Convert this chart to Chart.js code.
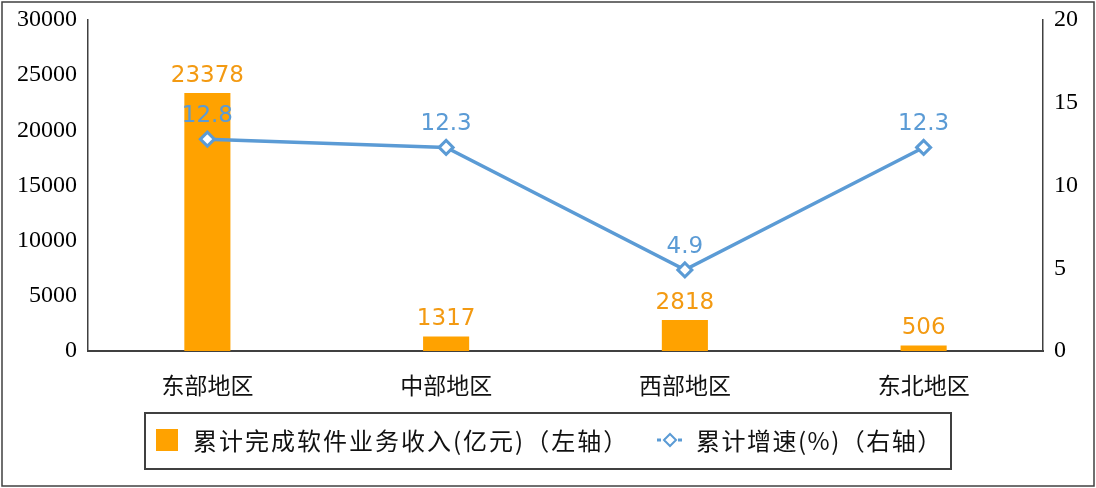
<!DOCTYPE html>
<html>
<head>
<meta charset="utf-8">
<script src="https://cdn.jsdelivr.net/npm/chart.js@4.4.1/dist/chart.umd.min.js"></script>
<style>
  html, body { margin: 0; padding: 0; background: #fff; }
  #wrap { width: 1096px; height: 488px; position: relative; }
</style>
</head>
<body>
<div id="wrap"><canvas id="chart" width="1096" height="488"></canvas></div>
<script>
const regions = ["东部地区", "中部地区", "西部地区", "东北地区"];
const revenue = [23378, 1317, 2818, 506];
const growth = [12.8, 12.3, 4.9, 12.3];
const revenueLabel = "累计完成软件业务收入(亿元)（左轴）";
const growthLabel = "累计增速(%)（右轴）";

const barColor = "#FFA200";
const barLabelColor = "#F39A12";
const lineColor = "#5B9BD5";
const axisColor = "#404040";

// value labels above bars and points
const valueLabels = {
  id: "valueLabels",
  afterDatasetsDraw(chart) {
    const ctx = chart.ctx;
    ctx.save();
    ctx.font = "23px 'DejaVu Sans'";
    ctx.textAlign = "center";
    ctx.textBaseline = "alphabetic";
    chart.data.datasets.forEach((ds, i) => {
      const meta = chart.getDatasetMeta(i);
      meta.data.forEach((el, j) => {
        if (ds.type === "bar") {
          ctx.fillStyle = barLabelColor;
          ctx.fillText(ds.data[j], el.x, el.y - 11);
        } else {
          ctx.fillStyle = lineColor;
          ctx.fillText(ds.data[j], el.x, el.y - 17);
        }
      });
    });
    ctx.restore();
  }
};

// outer frame and boxed legend
const frameLegend = {
  id: "frameLegend",
  afterDraw(chart) {
    const ctx = chart.ctx;
    const barDs = chart.data.datasets.find(d => d.type === "bar");
    const lineDs = chart.data.datasets.find(d => d.type === "line");
    ctx.save();
    ctx.strokeStyle = axisColor;
    ctx.lineWidth = 1.5;
    ctx.strokeRect(2, 2, 1092, 484);
    ctx.lineWidth = 2;
    ctx.strokeRect(145, 413, 806, 56);

    ctx.fillStyle = barDs.backgroundColor;
    ctx.fillRect(156, 429, 22, 22);

    ctx.font = "24px 'Noto Sans CJK SC'";
    ctx.letterSpacing = "2px";
    ctx.textBaseline = "middle";
    ctx.textAlign = "left";
    ctx.fillStyle = "#111";
    ctx.fillText(barDs.label, 193, 441);

    ctx.strokeStyle = lineDs.borderColor;
    ctx.lineWidth = 3;
    ctx.setLineDash([4, 3]);
    ctx.beginPath();
    ctx.moveTo(657, 440);
    ctx.lineTo(683, 440);
    ctx.stroke();
    ctx.setLineDash([]);
    ctx.fillStyle = "#fff";
    ctx.lineWidth = 2;
    ctx.beginPath();
    ctx.moveTo(670, 434);
    ctx.lineTo(676, 440);
    ctx.lineTo(670, 446);
    ctx.lineTo(664, 440);
    ctx.closePath();
    ctx.fill();
    ctx.stroke();

    ctx.fillStyle = "#111";
    ctx.letterSpacing = "1.5px";
    ctx.fillText(lineDs.label, 696, 441);
    ctx.restore();
  }
};

new Chart(document.getElementById("chart"), {
  data: {
    labels: regions,
    datasets: [
      {
        type: "line",
        label: growthLabel,
        data: growth,
        yAxisID: "y1",
        borderColor: lineColor,
        borderWidth: 3.5,
        pointStyle: "rectRot",
        pointRadius: 7,
        pointBorderWidth: 3,
        pointBackgroundColor: "#fff",
        pointBorderColor: lineColor,
        tension: 0,
        order: 1
      },
      {
        type: "bar",
        label: revenueLabel,
        data: revenue,
        yAxisID: "y",
        backgroundColor: barColor,
        borderWidth: 0,
        barPercentage: 0.193,
        categoryPercentage: 1,
        order: 2
      }
    ]
  },
  options: {
    responsive: false,
    animation: false,
    layout: { padding: { top: 20, bottom: 82, left: 0, right: 0 } },
    plugins: {
      legend: { display: false },
      tooltip: { enabled: false }
    },
    scales: {
      x: {
        grid: { display: false },
        border: { display: true, color: axisColor, width: 2 },
        ticks: {
          color: "#111",
          font: { family: "'Noto Sans CJK SC'", size: 23 },
          padding: 12
        },
        afterFit(scale) { scale.height = 55; }
      },
      y: {
        position: "left",
        min: 0,
        max: 30000,
        grid: { display: false },
        border: { display: true, color: axisColor, width: 1.5 },
        ticks: {
          stepSize: 5000,
          color: "#000",
          font: { family: "'Liberation Serif'", size: 24 },
          padding: 3,
          callback: v => String(v)
        },
        afterFit(scale) { scale.width = 88; }
      },
      y1: {
        position: "right",
        min: 0,
        max: 20,
        grid: { display: false },
        border: { display: true, color: axisColor, width: 1.5 },
        ticks: {
          stepSize: 5,
          color: "#000",
          font: { family: "'Liberation Serif'", size: 24 },
          padding: 3,
          callback: v => String(v)
        },
        afterFit(scale) { scale.width = 53; }
      }
    }
  },
  plugins: [valueLabels, frameLegend]
});
</script>
</body>
</html>
